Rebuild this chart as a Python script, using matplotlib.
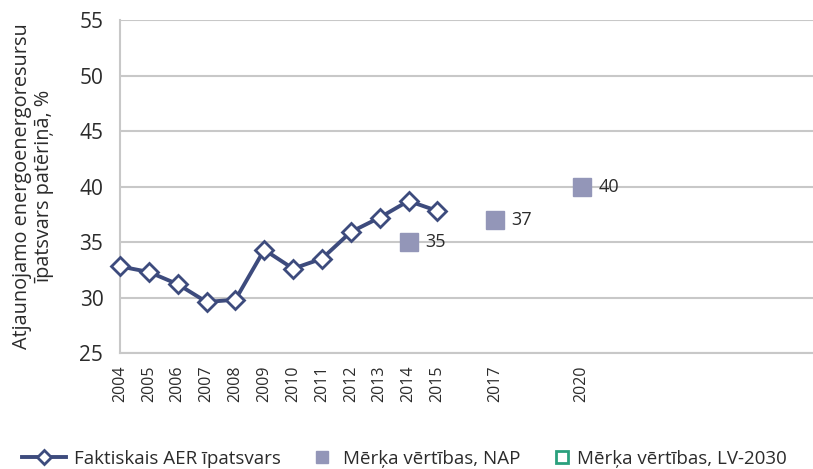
import matplotlib
matplotlib.use("Agg")
import matplotlib.pyplot as plt
from matplotlib.lines import Line2D

plt.rcParams['font.family'] = ['Open Sans', 'DejaVu Sans']

# categories on the x axis (Excel-like category axis)
categories = ['2004', '2005', '2006', '2007', '2008', '2009', '2010', '2011',
              '2012', '2013', '2014', '2015', '2016', '2017', '2018', '2019',
              '2020', '2021', '2022', '2023', '2024', '2025', '2026', '2027',
              '2028', '2029', '2030']
shown_ticks = ['2004', '2005', '2006', '2007', '2008', '2009', '2010', '2011',
               '2012', '2013', '2014', '2015', '2017', '2020']

actual_years = ['2004', '2005', '2006', '2007', '2008', '2009', '2010', '2011',
                '2012', '2013', '2014', '2015']
actual_values = [32.8, 32.3, 31.2, 29.6, 29.8, 34.3, 32.6, 33.5, 35.9, 37.2, 38.7, 37.8]

nap_years = ['2014', '2017', '2020']
nap_values = [35, 37, 40]

lv2030_years = []
lv2030_values = []

y_ticks = [25, 30, 35, 40, 45, 50, 55]

legend_labels = ['Faktiskais AER īpatsvars', 'Mērķa vērtības, NAP', 'Mērķa vērtības, LV-2030']

line_color = '#3d4b7d'
nap_color = '#9396b8'
lv_color = '#2aa07d'
grid_color = '#c8c8c8'
text_color = '#2b2b2b'

W, H = 813, 469
idx = {c: i for i, c in enumerate(categories)}

fig = plt.figure(figsize=(W / 100, H / 100), dpi=100)
ax = fig.add_axes([120 / W, 1 - 353 / H, 1 - 120 / W, (353 - 20) / H])

ax.plot([idx[y] for y in actual_years], actual_values, color=line_color, lw=2.8,
        marker='D', markersize=9, markerfacecolor='white', markeredgecolor=line_color,
        markeredgewidth=2, zorder=3, clip_on=False)
ax.plot([idx[y] for y in nap_years], nap_values, ls='none', marker='s', markersize=12.5,
        color=nap_color, zorder=3)
ax.plot([idx[y] for y in lv2030_years], lv2030_values, ls='none', marker='s',
        markersize=7, markerfacecolor='white', markeredgecolor=lv_color, zorder=3)

for y, v in zip(nap_years, nap_values):
    ax.annotate(f'{v}', (idx[y], v), xytext=(12, 0), textcoords='offset points',
                ha='left', va='center', fontsize=13, color=text_color)

ax.set_ylim(25, 55)
ax.set_yticks(y_ticks)
ax.set_xlim(0, (W - 120) / 28.85)
ax.set_xticks([idx[c] for c in shown_ticks])
ax.set_xticklabels(shown_ticks, rotation=90, fontsize=11.5, color=text_color)
ax.tick_params(axis='y', labelsize=15, colors=text_color, length=0, pad=12)
ax.tick_params(axis='x', length=0, pad=9)
ax.grid(axis='y', color=grid_color, lw=1.5)
ax.set_axisbelow(True)
for s in ['top', 'right']:
    ax.spines[s].set_visible(False)
for s in ['left', 'bottom']:
    ax.spines[s].set_color(grid_color)
    ax.spines[s].set_linewidth(1.5)

fig.text(33 / W, 1 - 186 / H, 'Atjaunojamo energoenergoresursu\nīpatsvars patēriņā, %',
         rotation=90, ha='center', va='center', fontsize=14.3, color=text_color,
         linespacing=1.15)

handles = [
    Line2D([], [], color=line_color, lw=2.8, marker='D', markersize=7.5,
           markerfacecolor='white', markeredgecolor=line_color, markeredgewidth=2),
    Line2D([], [], ls='none', marker='s', markersize=9, color=nap_color),
    Line2D([], [], ls='none', marker='s', markersize=8, markerfacecolor='white',
           markeredgecolor=lv_color, markeredgewidth=2),
]
fs = 13.5
em = fs * 100 / 72
# (anchor x px, handle length px, text start px)
entries = [(22, 44, 74), (312.6, em, 343), (552.6, em, 577)]
for h, lab, (ax0, hl, tx) in zip(handles, legend_labels, entries):
    fig.legend([h], [lab], loc='center left', bbox_to_anchor=(ax0 / W, 1 - 459 / H),
               frameon=False, fontsize=fs, borderpad=0, borderaxespad=0,
               handlelength=hl / em, handletextpad=(tx - ax0 - hl) / em,
               labelcolor=text_color)

fig.savefig('out.png', dpi=100)
